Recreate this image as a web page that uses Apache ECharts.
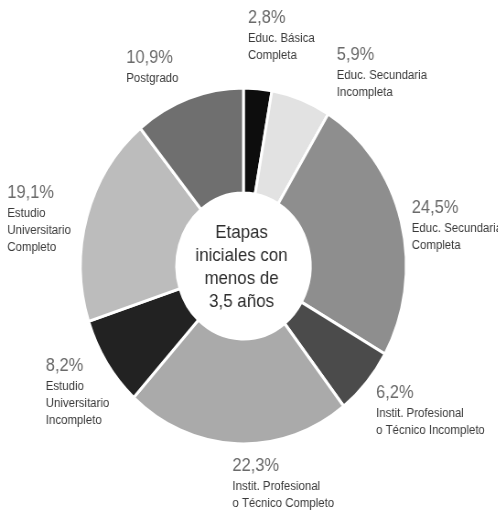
<!DOCTYPE html>
<html>
<head>
<meta charset="utf-8">
<script src="https://cdn.jsdelivr.net/npm/echarts@6/dist/echarts.min.js"></script>
<style>
  html, body { margin: 0; padding: 0; background: #ffffff; overflow: hidden; }
  #wrap { width: 498px; height: 518px; overflow: hidden; }
  #chart { width: 544px; height: 518px; transform: scaleX(0.915); transform-origin: 0 0; }
</style>
</head>
<body>
<div id="wrap"><div id="chart"></div></div>
<script>
// ---- data ----
const categories = [
  'Educ. Básica\nCompleta',
  'Educ. Secundaria\nIncompleta',
  'Educ. Secundaria\nCompleta',
  'Instit. Profesional\no Técnico Incompleto',
  'Instit. Profesional\no Técnico Completo',
  'Estudio\nUniversitario\nIncompleto',
  'Estudio\nUniversitario\nCompleto',
  'Postgrado'
];
const values = [2.8, 5.9, 24.5, 6.2, 22.3, 8.2, 19.1, 10.9];
const centerText = 'Etapas\niniciales con\nmenos de\n3,5 años';

// ---- styling / layout (not data) ----
const colors = ['#0d0d0d', '#e2e2e2', '#8e8e8e', '#4b4b4b', '#aaaaaa', '#222222', '#bcbcbc', '#6f6f6f'];
const labelPos = [
  [271, 7], [368, 44], [450, 197], [411, 382],
  [254, 455], [50, 355], [8, 182], [138, 47]
];
const CX = 266, CY = 266;
const FONT = '"Liberation Sans", Arial, sans-serif';

const chart = echarts.init(document.getElementById('chart'), null, { renderer: 'canvas' });

const fmt = v => String(v).replace('.', ',') + '%';

chart.setOption({
  backgroundColor: '#ffffff',
  animation: false,
  graphic: [{
    type: 'text',
    x: CX - 2, y: CY + 1,
    style: {
      text: centerText,
      fontFamily: FONT,
      fontSize: 18.5,
      lineHeight: 23,
      fill: '#2e2e2e',
      align: 'center',
      verticalAlign: 'middle'
    },
    z: 10
  }],
  series: [{
    type: 'pie',
    center: [CX, CY],
    radius: [73, 178],
    startAngle: 90,
    clockwise: true,
    avoidLabelOverlap: false,
    itemStyle: { borderColor: '#ffffff', borderWidth: 3 },
    labelLine: { show: false },
    label: {
      show: true,
      position: 'outside',
      formatter: p => '{p|' + fmt(p.value) + '}\n{d|' + p.name.split('\n').join('}\n{d|') + '}',
      rich: {
        p: { fontFamily: FONT, fontSize: 18, lineHeight: 23, color: '#6a6a6a', align: 'left' },
        d: { fontFamily: FONT, fontSize: 12.5, lineHeight: 17, color: '#3a3a3a', align: 'left' }
      }
    },
    labelLayout: params => ({
      x: labelPos[params.dataIndex][0],
      y: labelPos[params.dataIndex][1],
      align: 'left',
      verticalAlign: 'top',
      hideOverlap: false
    }),
    data: values.map((v, i) => ({ name: categories[i], value: v, itemStyle: { color: colors[i] } }))
  }]
});
</script>
</body>
</html>
